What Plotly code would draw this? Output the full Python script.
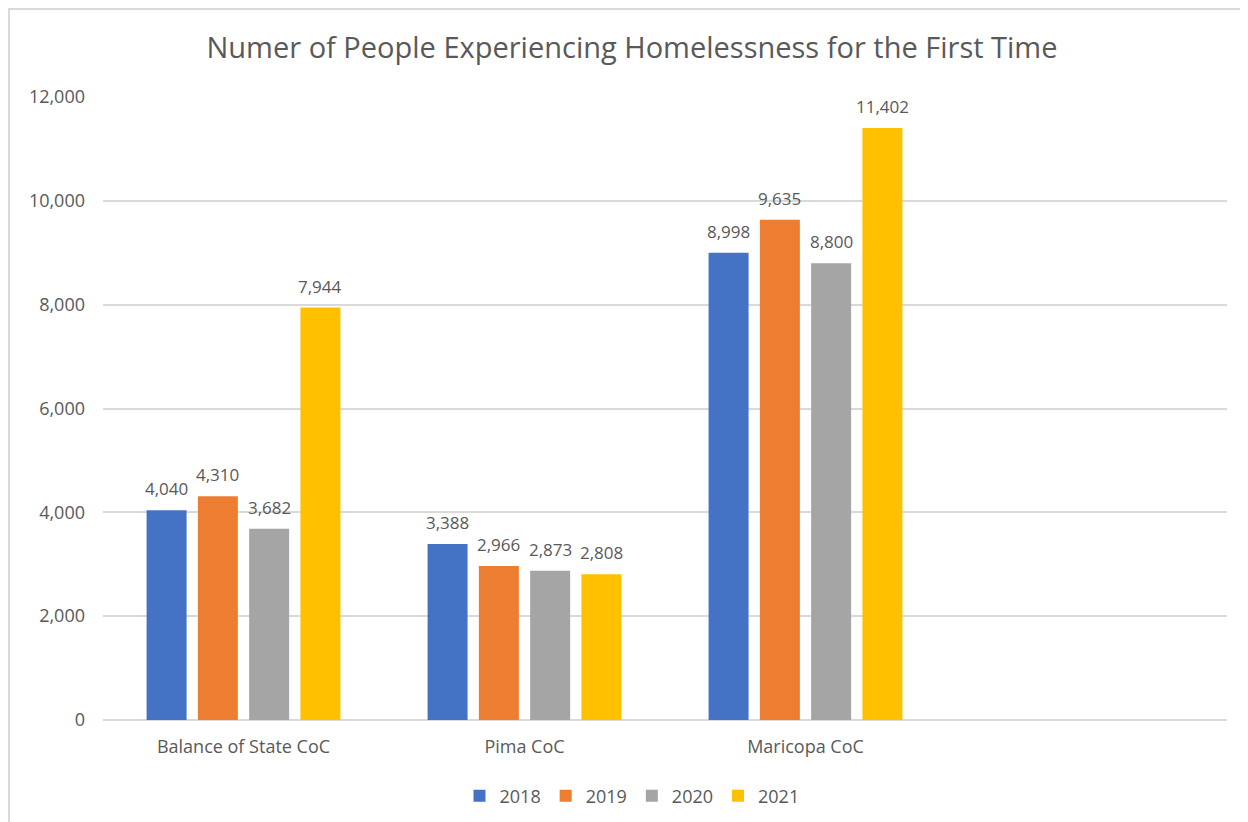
import plotly.graph_objects as go

categories = ["Balance of State CoC", "Pima CoC", "Maricopa CoC"]
years = ["2018", "2019", "2020", "2021"]
values = {
    "2018": [4040, 3388, 8998],
    "2019": [4310, 2966, 9635],
    "2020": [3682, 2873, 8800],
    "2021": [7944, 2808, 11402],
}
colors = {"2018": "#4472C4", "2019": "#ED7D31", "2020": "#A5A5A5", "2021": "#FFC000"}

FONT = "Open Sans"
GREY = "#595959"

# figure origin is shown 8px in from the window edge
L, R, T, B = 95, 29, 89, 110
PW, PH = 1248 - L - R, 822 - T - B
BARGAP, GROUPGAP = 0.27, 0.22
N_SLOTS = 4  # three categories plus an empty slot on the right

fig = go.Figure()
for y in years:
    fig.add_trace(go.Bar(
        x=categories, y=values[y], name=y,
        marker=dict(color=colors[y], line=dict(width=0)),
    ))

# data labels: anchored to each bar's value, offset to its group position
cat_px = PW / N_SLOTS
slot_px = cat_px * (1 - BARGAP) / len(years)
annotations = []
for i, y in enumerate(years):
    for c, v in zip(categories, values[y]):
        annotations.append(dict(
            x=c, y=v, xref="x", yref="y", text=f"{v:,}", showarrow=False,
            xshift=(i - (len(years) - 1) / 2) * slot_px, yshift=8, yanchor="bottom",
            font=dict(family=FONT, size=17, color=GREY),
        ))

fig.update_layout(
    width=1248, height=822,
    paper_bgcolor="white", plot_bgcolor="white",
    margin=dict(l=L, r=R, t=T, b=B, autoexpand=False),
    barmode="group", bargap=BARGAP, bargroupgap=GROUPGAP,
    title=dict(text="Numer of People Experiencing Homelessness for the First Time",
               x=0.5, xref="container", y=1 - 40 / 822, yanchor="middle",
               font=dict(family=FONT, size=29, color=GREY)),
    font=dict(family=FONT, color=GREY),
    legend=dict(orientation="h", x=(1248 / 2 - L) / PW, xanchor="center",
                y=-(788 - (T + PH)) / PH, yanchor="middle", xref="paper",
                font=dict(size=18, color=GREY), itemwidth=30, traceorder="normal"),
    showlegend=True,
    annotations=annotations,
)
fig.update_xaxes(type="category", range=[-0.5, N_SLOTS - 0.5], showgrid=False, showline=False,
                 ticks="", ticklabelstandoff=14, tickangle=0, automargin=False,
                 tickfont=dict(size=18, color=GREY))
fig.update_yaxes(range=[0, 12000], dtick=2000, tickformat=",", showgrid=True,
                 gridcolor="#D9D9D9", gridwidth=1.5, zeroline=True, zerolinecolor="#D9D9D9",
                 zerolinewidth=2, ticks="", ticklabelstandoff=17, automargin=False,
                 tickfont=dict(size=18, color=GREY))
fig.add_shape(type="rect", xref="paper", yref="paper",
              x0=(1 - L) / PW, x1=1.2, y0=-1.0, y1=1 + (T - 1) / PH,
              line=dict(color="#D9D9D9", width=2), fillcolor="rgba(0,0,0,0)", layer="below")
fig.write_html("out.html")
